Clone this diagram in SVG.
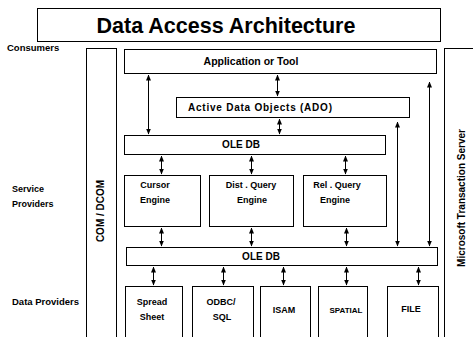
<svg xmlns="http://www.w3.org/2000/svg" width="473" height="337" viewBox="0 0 473 337">
<style>
.b{fill:#fff;stroke:#000;stroke-width:1}
.t{font-family:"Liberation Sans",Arial,sans-serif;font-weight:bold;fill:#000;font-size:9px}
.m{text-anchor:middle}
.c line{stroke:#000;stroke-width:1;marker-start:url(#a);marker-end:url(#a)}
</style>
<defs>
<marker id="a" viewBox="0 0 6 6" refX="5.5" refY="3" markerWidth="6" markerHeight="6" orient="auto-start-reverse" markerUnits="userSpaceOnUse">
<path d="M0,0.5L6,3L0,5.5z" fill="#000"/>
</marker>
</defs>
<rect width="473" height="337" fill="#fff"/>
<g id="title"><rect class="b" x="37.5" y="8.5" width="403" height="33"/><text class="t m" x="226" y="33" style="font-size:21.5px">Data Access Architecture</text></g>
<g id="consumers"><text class="t" x="7" y="51" style="font-size:9.5px">Consumers</text></g>
<g id="service-providers"><text class="t" x="12" y="192">Service</text><text class="t" x="12" y="207">Providers</text></g>
<g id="data-providers"><text class="t" x="12" y="305" style="font-size:9.5px">Data Providers</text></g>
<g id="com-dcom"><rect class="b" x="86.5" y="48.5" width="30" height="300"/><text class="t m" transform="translate(104,211) rotate(-90)" style="font-size:10px">COM / DCOM</text></g>
<g id="mts"><rect class="b" x="444.5" y="48.5" width="40" height="300"/><text class="t m" transform="translate(465,198) rotate(-90)" style="font-size:10px">Microsoft Transaction Server</text></g>
<g id="app"><rect class="b" x="124.5" y="49.5" width="312" height="24"/><text class="t m" x="251" y="65" style="font-size:10.5px">Application or Tool</text></g>
<g id="ado"><rect class="b" x="176.5" y="97.5" width="233" height="20"/><text class="t" x="188" y="111" style="font-size:10px" textLength="144" lengthAdjust="spacing">Active Data Objects  (ADO)</text></g>
<g id="oledb1"><rect class="b" x="124.5" y="135.5" width="261" height="19"/><text class="t m" x="241" y="148" style="font-size:10px">OLE  DB</text></g>
<g id="cursor"><rect class="b" x="124.5" y="175.5" width="76" height="51"/><text class="t m" x="155" y="188">Cursor</text><text class="t m" x="155" y="203">Engine</text></g>
<g id="dist"><rect class="b" x="209.5" y="175.5" width="84" height="51"/><text class="t m" x="251" y="188">Dist . Query</text><text class="t m" x="252" y="203">Engine</text></g>
<g id="rel"><rect class="b" x="303.5" y="175.5" width="83" height="51"/><text class="t m" x="337" y="188">Rel . Query</text><text class="t m" x="335" y="203">Engine</text></g>
<g id="oledb2"><rect class="b" x="126.5" y="247.5" width="311" height="18"/><text class="t m" x="261" y="260" style="font-size:10px">OLE  DB</text></g>
<g id="spread"><rect class="b" x="125.5" y="286.5" width="57" height="60"/><text class="t m" x="152" y="305">Spread</text><text class="t m" x="152" y="320">Sheet</text></g>
<g id="odbc"><rect class="b" x="192.5" y="286.5" width="61" height="60"/><text class="t m" x="221" y="305">ODBC/</text><text class="t m" x="222" y="320">SQL</text></g>
<g id="isam"><rect class="b" x="260.5" y="286.5" width="50" height="60"/><text class="t m" x="284" y="313">ISAM</text></g>
<g id="spatial"><rect class="b" x="318.5" y="286.5" width="49" height="60"/><text class="t m" x="346" y="313" style="font-size:8px">SPATIAL</text></g>
<g id="file"><rect class="b" x="387.5" y="286.5" width="51" height="60"/><text class="t m" x="411" y="312">FILE</text></g>
<g id="connectors" class="c">
<line x1="148.5" y1="75" x2="148.5" y2="134"/>
<line x1="277.5" y1="75" x2="277.5" y2="96"/>
<line x1="279.5" y1="119" x2="279.5" y2="134"/>
<line x1="429.5" y1="82" x2="429.5" y2="246"/>
<line x1="397.5" y1="122" x2="397.5" y2="246"/>
<line x1="161.5" y1="156" x2="161.5" y2="174"/>
<line x1="251.5" y1="156" x2="251.5" y2="174"/>
<line x1="345.5" y1="156" x2="345.5" y2="174"/>
<line x1="161.5" y1="228" x2="161.5" y2="246"/>
<line x1="251.5" y1="228" x2="251.5" y2="246"/>
<line x1="346.5" y1="228" x2="346.5" y2="246"/>
<line x1="153.5" y1="267" x2="153.5" y2="285"/>
<line x1="223.5" y1="267" x2="223.5" y2="285"/>
<line x1="283.5" y1="267" x2="283.5" y2="285"/>
<line x1="346.5" y1="267" x2="346.5" y2="285"/>
<line x1="418.5" y1="267" x2="418.5" y2="285"/>
</g>
</svg>
